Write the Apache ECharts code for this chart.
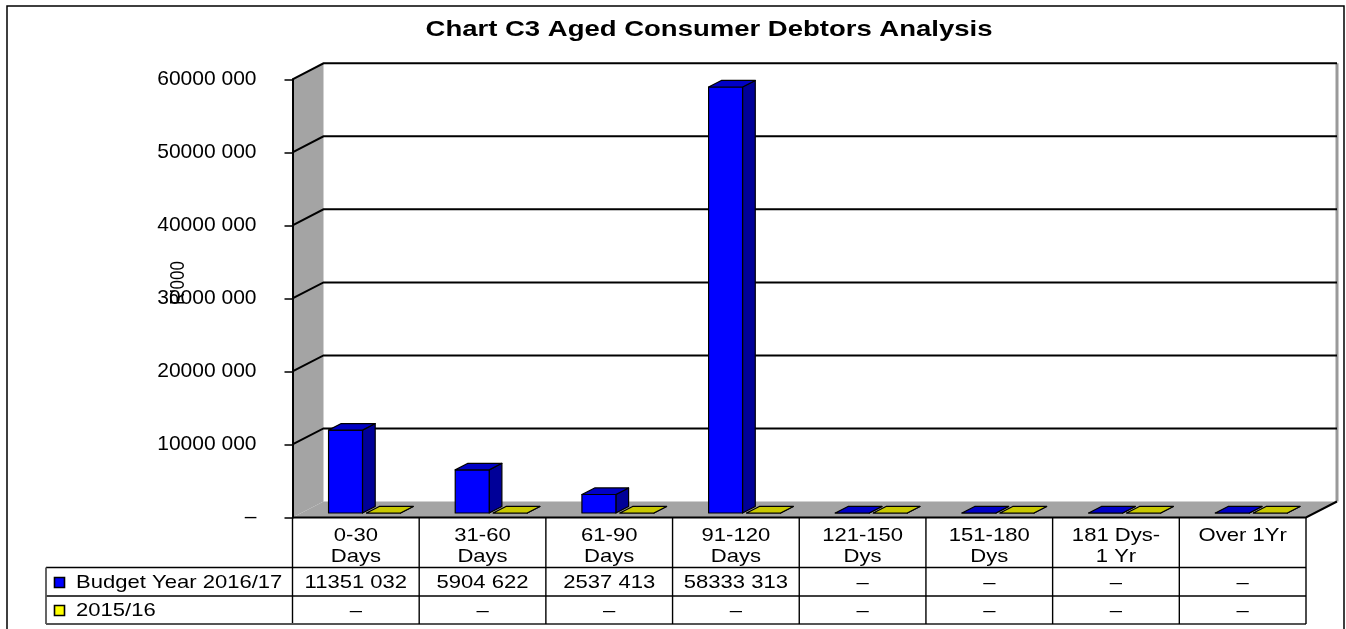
<!DOCTYPE html>
<html>
<head>
<meta charset="utf-8">
<title>Chart C3 Aged Consumer Debtors Analysis</title>
<script src="https://cdn.jsdelivr.net/npm/echarts@6/dist/echarts.min.js"></script>
<style>
  html, body { margin: 0; padding: 0; background: #fff; }
  #chart { width: 1346px; height: 629px; }
</style>
</head>
<body>
<div id="chart"></div>
<script>
// ---- data ----
const categories = ['0-30\nDays', '31-60\nDays', '61-90\nDays', '91-120\nDays',
                    '121-150\nDys', '151-180\nDys', '181 Dys-\n1 Yr', 'Over 1Yr'];
const seriesNames = ['Budget Year 2016/17', '2015/16'];
const budget2016 = [11351032, 5904622, 2537413, 58333313, 0, 0, 0, 0];
const prior2015 = [0, 0, 0, 0, 0, 0, 0, 0];
const yTickValues = [0, 10000000, 20000000, 30000000, 40000000, 50000000, 60000000];

// ---- look ----
const FONT = '"Liberation Sans", Arial, sans-serif';
const STRETCH = 1.16;                // wide lettering of the table
const DEPTH = [31, -16];             // wall / floor depth vector in px
const BAR_FRONT = 0.28;              // bar front plane (fraction of depth)
const BAR_DEPTH = 0.41;              // bar thickness (fraction of depth)
const BAR_W = 0.268;                 // bar width (fraction of category band)
const BAR_GAP = 0.032;               // gap between the two bars of a cluster
const TABLE_LEFT = 46;
const ROWS = { headerTop: 7.5, line1: 50, row1: 65, line2: 78.5, row2: 93, bottom: 106.5 };
const COLORS = [
  { front: '#0000ff', top: '#0000c6', side: '#000098', key: '#0000ff' },
  { front: '#ffff00', top: '#c8c800', side: '#969600', key: '#ffff00' }
];

// 11351032 -> "11351 032", 0 -> "–"
function fmt(v) {
  if (!v) return '\u2013';
  const hi = Math.floor(v / 1000), lo = v % 1000;
  return hi + ' ' + String(lo).padStart(3, '0');
}

function wideText(s, x, y, align, size, vAlign) {
  return {
    type: 'text', x: x, y: y, scaleX: STRETCH,
    style: { text: s, x: 0, y: 0, align: align, verticalAlign: vAlign || 'middle',
             fontSize: size, fontFamily: FONT, fill: '#000', lineHeight: 21.5 }
  };
}

function seg(x1, y1, x2, y2, color, w) {
  return { type: 'line', shape: { x1: x1, y1: y1, x2: x2, y2: y2 },
           style: { stroke: color || '#000', lineWidth: w || 1.4 } };
}

// side wall, floor, back-wall gridlines
function renderWalls(params, api) {
  const band = api.size([1, 0])[0];
  const n = categories.length;
  const x0 = api.coord([0, 0])[0] - band / 2;
  const x1 = api.coord([n - 1, 0])[0] + band / 2;
  const yBase = api.coord([0, yTickValues[0]])[1];
  const yTop = api.coord([0, yTickValues[yTickValues.length - 1]])[1];
  const dx = DEPTH[0], dy = DEPTH[1];
  const children = [
    { type: 'polygon', shape: { points: [[x0, yBase], [x0 + dx, yBase + dy], [x0 + dx, yTop + dy], [x0, yTop]] },
      style: { fill: '#a4a4a4' } },
    { type: 'polygon', shape: { points: [[x0, yBase], [x1, yBase], [x1 + dx, yBase + dy], [x0 + dx, yBase + dy]] },
      style: { fill: '#a4a4a4' } },
    seg(x1 + dx, yTop + dy, x1 + dx, yBase + dy, '#9a9a9a', 3)
  ];
  yTickValues.slice(1).forEach(function (v) {
    const y = api.coord([0, v])[1];
    children.push({ type: 'polyline',
      shape: { points: [[x0, y], [x0 + dx, y + dy], [x1 + dx, y + dy]] },
      style: { stroke: '#000', lineWidth: 2, fill: 'none' } });
  });
  children.push({ type: 'polyline',
    shape: { points: [[x0, yBase], [x1, yBase], [x1 + dx, yBase + dy]] },
    style: { stroke: '#000', lineWidth: 2, fill: 'none' } });
  return { type: 'group', children: children };
}

// one 3D column (front, side, top faces)
function makeBarRenderer(k) {
  const c = COLORS[k];
  return function (params, api) {
    const i = api.value(0), v = api.value(1);
    const band = api.size([1, 0])[0];
    const p0 = api.coord([i, 0]), p1 = api.coord([i, v]);
    const ox = DEPTH[0] * BAR_FRONT, oy = DEPTH[1] * BAR_FRONT;
    const dx = DEPTH[0] * BAR_DEPTH, dy = DEPTH[1] * BAR_DEPTH;
    const w = band * BAR_W, g = band * BAR_GAP;
    const cx = p0[0] + ox;
    const left = k === 0 ? cx - g / 2 - w : cx + g / 2;
    const right = left + w;
    const yB = p0[1] + oy, yT = p1[1] + oy;
    const edge = { stroke: '#000', lineWidth: 1.2, lineJoin: 'round' };
    return { type: 'group', children: [
      { type: 'polygon', shape: { points: [[right, yT], [right + dx, yT + dy], [right + dx, yB + dy], [right, yB]] },
        style: Object.assign({ fill: c.side }, edge) },
      { type: 'rect', shape: { x: left, y: yT, width: w, height: yB - yT },
        style: Object.assign({ fill: c.front }, edge) },
      { type: 'polygon', shape: { points: [[left, yT], [right, yT], [right + dx, yT + dy], [left + dx, yT + dy]] },
        style: Object.assign({ fill: c.top }, edge) }
    ] };
  };
}

// data table under the plot: one column per category
function renderTable(params, api) {
  const i = api.value(0);
  const n = categories.length;
  const band = api.size([1, 0])[0];
  const c = api.coord([i, 0]);
  const xl = c[0] - band / 2, xr = c[0] + band / 2;
  const y0 = c[1];
  const children = [seg(xl, y0, xl, y0 + ROWS.bottom)];
  if (i === n - 1) children.push(seg(xr, y0, xr, y0 + ROWS.bottom));
  children.push(wideText(categories[i], c[0], y0 + ROWS.headerTop, 'center', 19, 'top'));
  children.push(wideText(fmt(budget2016[i]), c[0], y0 + ROWS.row1, 'center', 19));
  children.push(wideText(fmt(prior2015[i]), c[0], y0 + ROWS.row2, 'center', 19));
  if (i === 0) {
    const xEnd = xl + band * n;
    children.push(seg(TABLE_LEFT, y0 + ROWS.line1, xEnd, y0 + ROWS.line1));
    children.push(seg(TABLE_LEFT, y0 + ROWS.line2, xEnd, y0 + ROWS.line2));
    children.push(seg(TABLE_LEFT, y0 + ROWS.bottom, xEnd, y0 + ROWS.bottom, '#555', 1.8));
    children.push(seg(TABLE_LEFT, y0 + ROWS.line1, TABLE_LEFT, y0 + ROWS.bottom, '#555', 1.8));
    [ROWS.row1, ROWS.row2].forEach(function (ry, k) {
      children.push({ type: 'rect', shape: { x: 54.5, y: y0 + ry - 5, width: 10, height: 10 },
        style: { fill: COLORS[k].key, stroke: '#000', lineWidth: 1.6 } });
      children.push(wideText(seriesNames[k], 76, y0 + ry, 'left', 19));
    });
  }
  return { type: 'group', children: children };
}

const chart = echarts.init(document.getElementById('chart'), null, { renderer: 'canvas' });
chart.setOption({
  animation: false,
  backgroundColor: '#fff',
  grid: { left: 292.5, right: 40, top: 79.3, bottom: 111.5, containLabel: false, outerBoundsMode: 'none' },
  xAxis: { type: 'category', data: categories, show: false, boundaryGap: true },
  yAxis: {
    type: 'value', z: 6,
    min: yTickValues[0], max: yTickValues[yTickValues.length - 1],
    interval: yTickValues[1] - yTickValues[0],
    axisLine: { show: true, lineStyle: { color: '#000', width: 2 } },
    axisTick: { show: true, inside: false, length: 8, lineStyle: { color: '#000', width: 1.5 } },
    splitLine: { show: false },
    axisLabel: { margin: 36, fontSize: 21, fontFamily: FONT, color: '#000', formatter: fmt }
  },
  graphic: [
    { type: 'rect', shape: { x: 7, y: 6, width: 1337, height: 640 },
      style: { fill: 'none', stroke: '#000', lineWidth: 1.5 }, z: 0, silent: true },
    { type: 'text', x: 709, y: 30, scaleX: 1.25, z: 10,
      style: { text: 'Chart C3 Aged Consumer Debtors Analysis', x: 0, y: 0, align: 'center',
               verticalAlign: 'middle', fontSize: 22, fontWeight: 'bold', fontFamily: FONT, fill: '#000' } },
    { type: 'text', x: 178, y: 283, rotation: Math.PI / 2, scaleY: 1.2, z: 10,
      style: { text: "R'000", x: 0, y: 0, align: 'center', verticalAlign: 'middle',
               fontSize: 17, fontFamily: FONT, fill: '#000' } }
  ],
  series: [
    { type: 'custom', name: 'walls', z: 1, clip: false, silent: true,
      renderItem: renderWalls, data: [[0, 0]], encode: { x: 0, y: 1 } },
    { type: 'custom', name: 'table', z: 2, clip: false, silent: true,
      renderItem: renderTable, data: categories.map(function (c, i) { return [i, 0]; }), encode: { x: 0, y: 1 } },
    { type: 'custom', name: seriesNames[0], z: 3, clip: false,
      renderItem: makeBarRenderer(0), data: budget2016.map(function (v, i) { return [i, v]; }), encode: { x: 0, y: 1 } },
    { type: 'custom', name: seriesNames[1], z: 4, clip: false,
      renderItem: makeBarRenderer(1), data: prior2015.map(function (v, i) { return [i, v]; }), encode: { x: 0, y: 1 } }
  ]
});
</script>
</body>
</html>
